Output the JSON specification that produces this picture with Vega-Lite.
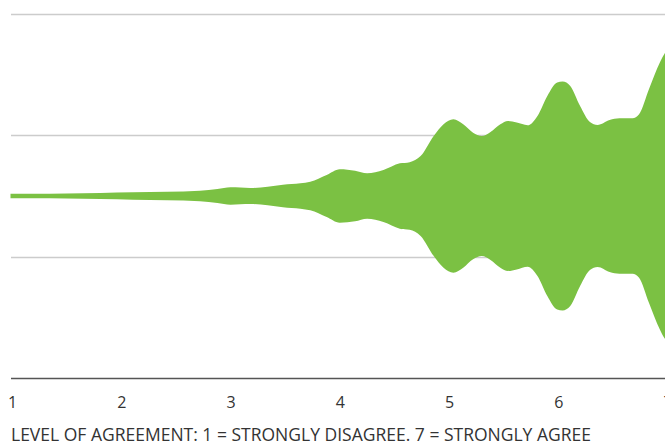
{
  "$schema": "https://vega.github.io/schema/vega-lite/v6.json",
  "width": 657,
  "height": 364,
  "autosize": {"type": "none"},
  "padding": {"left": 10.5, "top": 14, "right": 0, "bottom": 63},
  "background": "white",
  "config": {"view": {"stroke": null}},
  "data": {
    "values": [
      {"x": 0.986, "hi": 0.019, "lo": -0.019},
      {"x": 1.19, "hi": 0.019, "lo": -0.019},
      {"x": 1.5, "hi": 0.021, "lo": -0.021},
      {"x": 1.81, "hi": 0.025, "lo": -0.025},
      {"x": 2.11, "hi": 0.031, "lo": -0.031},
      {"x": 2.42, "hi": 0.036, "lo": -0.036},
      {"x": 2.72, "hi": 0.044, "lo": -0.044},
      {"x": 2.88, "hi": 0.058, "lo": -0.058},
      {"x": 3.0, "hi": 0.072, "lo": -0.072},
      {"x": 3.18, "hi": 0.066, "lo": -0.066},
      {"x": 3.34, "hi": 0.077, "lo": -0.077},
      {"x": 3.48, "hi": 0.093, "lo": -0.093},
      {"x": 3.64, "hi": 0.105, "lo": -0.105},
      {"x": 3.73, "hi": 0.118, "lo": -0.118},
      {"x": 3.88, "hi": 0.174, "lo": -0.174},
      {"x": 4.0, "hi": 0.221, "lo": -0.221},
      {"x": 4.14, "hi": 0.209, "lo": -0.209},
      {"x": 4.25, "hi": 0.188, "lo": -0.188},
      {"x": 4.4, "hi": 0.215, "lo": -0.215},
      {"x": 4.55, "hi": 0.269, "lo": -0.269},
      {"x": 4.64, "hi": 0.279, "lo": -0.279},
      {"x": 4.74, "hi": 0.329, "lo": -0.329},
      {"x": 4.86, "hi": 0.494, "lo": -0.494},
      {"x": 4.95, "hi": 0.591, "lo": -0.591},
      {"x": 5.04, "hi": 0.632, "lo": -0.632},
      {"x": 5.13, "hi": 0.591, "lo": -0.591},
      {"x": 5.22, "hi": 0.522, "lo": -0.522},
      {"x": 5.3, "hi": 0.494, "lo": -0.494},
      {"x": 5.38, "hi": 0.527, "lo": -0.527},
      {"x": 5.47, "hi": 0.591, "lo": -0.591},
      {"x": 5.54, "hi": 0.618, "lo": -0.618},
      {"x": 5.62, "hi": 0.605, "lo": -0.605},
      {"x": 5.72, "hi": 0.583, "lo": -0.583},
      {"x": 5.81, "hi": 0.66, "lo": -0.66},
      {"x": 5.9, "hi": 0.825, "lo": -0.825},
      {"x": 5.99, "hi": 0.936, "lo": -0.936},
      {"x": 6.04, "hi": 0.944, "lo": -0.944},
      {"x": 6.11, "hi": 0.907, "lo": -0.907},
      {"x": 6.2, "hi": 0.742, "lo": -0.742},
      {"x": 6.29, "hi": 0.61, "lo": -0.61},
      {"x": 6.36, "hi": 0.585, "lo": -0.585},
      {"x": 6.47, "hi": 0.626, "lo": -0.626},
      {"x": 6.56, "hi": 0.64, "lo": -0.64},
      {"x": 6.68, "hi": 0.64, "lo": -0.64},
      {"x": 6.74, "hi": 0.674, "lo": -0.674},
      {"x": 6.83, "hi": 0.88, "lo": -0.88},
      {"x": 6.93, "hi": 1.101, "lo": -1.101},
      {"x": 6.97, "hi": 1.169, "lo": -1.169},
      {"x": 7.0, "hi": 1.2, "lo": -1.2}
    ]
  },
  "mark": {"type": "area", "color": "#7bc143", "interpolate": "monotone"},
  "encoding": {
    "x": {
      "field": "x",
      "type": "quantitative",
      "scale": {"domain": [0.986, 7], "nice": false, "zero": false},
      "axis": {
        "values": [1, 2, 3, 4, 5, 6, 7],
        "format": "d",
        "grid": false,
        "ticks": false,
        "domainColor": "#555555",
        "domainWidth": 1.5,
        "labelFont": "Open Sans",
        "labelFontSize": 16,
        "labelColor": "#333333",
        "labelPadding": 16,
        "labelFlush": false,
        "title": "LEVEL OF AGREEMENT: 1 = STRONGLY DISAGREE. 7 = STRONGLY AGREE",
        "titleFont": "Open Sans",
        "titleFontSize": 17.5,
        "titleFontWeight": "normal",
        "titleColor": "#333333",
        "titleAnchor": "start",
        "titleAlign": "left",
        "titleBaseline": "alphabetic",
        "titleX": 0,
        "titleY": 62.5,
        "zindex": 1
      }
    },
    "y": {
      "field": "hi",
      "type": "quantitative",
      "scale": {"domain": [-1.5, 1.5], "nice": false, "zero": false},
      "axis": {
        "values": [-0.5, 0.5, 1.5],
        "grid": true,
        "gridColor": "#cccccc",
        "gridWidth": 1.3,
        "domain": false,
        "ticks": false,
        "labels": false,
        "title": null
      }
    },
    "y2": {"field": "lo"}
  }
}
